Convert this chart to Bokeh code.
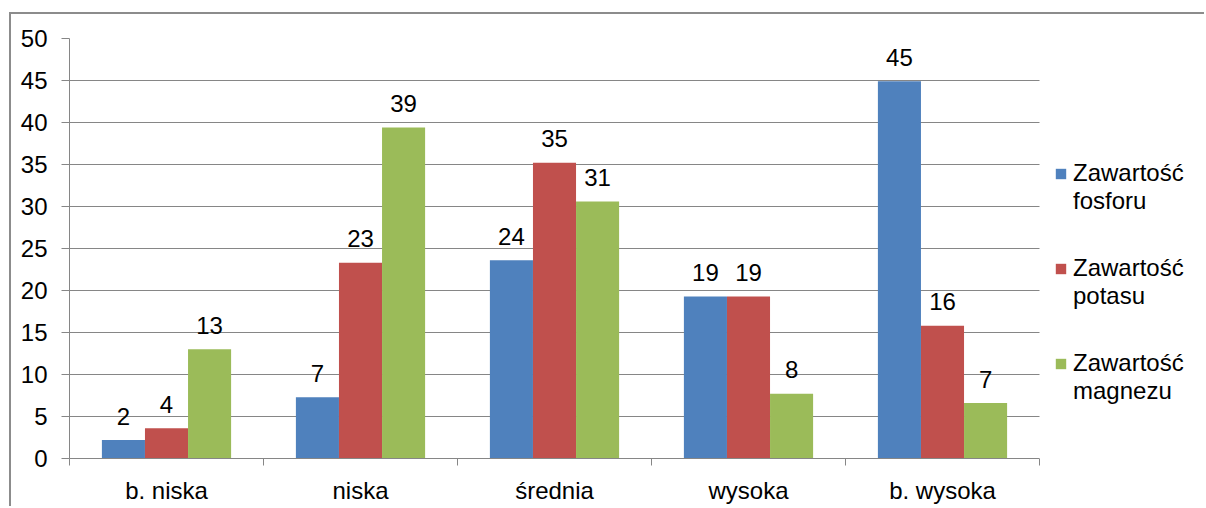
from bokeh.plotting import figure
from bokeh.models import (ColumnDataSource, Range1d, FixedTicker, Legend, LegendItem, BoxAnnotation)
from bokeh.transform import dodge
from bokeh.core.properties import value
from bokeh.embed import file_html
from bokeh.resources import INLINE

categories = ["b. niska", "niska", "średnia", "wysoka", "b. wysoka"]
fosfor = [2.2, 7.3, 23.6, 19.3, 44.9]
potas = [3.6, 23.3, 35.2, 19.3, 15.8]
magnez = [13.0, 39.4, 30.6, 7.7, 6.6]
series_names = ["Zawartość\nfosforu", "Zawartość\npotasu", "Zawartość\nmagnezu"]
colors = ["#4F81BD", "#C0504D", "#9BBB59"]
y_ticks = [0, 5, 10, 15, 20, 25, 30, 35, 40, 45, 50]

FONT = "Liberation Sans"
FS = "24px"
GRID = "#868686"
N = len(categories)

idx = [i + 0.5 for i in range(N)]
src = ColumnDataSource(dict(
    x=idx,
    fosfor=fosfor, potas=potas, magnez=magnez,
    fosfor_l=[str(int(v + 0.5)) for v in fosfor],
    potas_l=[str(int(v + 0.5)) for v in potas],
    magnez_l=[str(int(v + 0.5)) for v in magnez],
))

W, H = 1195, 494
ML, MT, MB = 58, 24, 50
px_per_cat = 194.0
x_end = (W - ML) / px_per_cat

p = figure(width=W, height=H, output_backend="svg", toolbar_location=None,
           x_range=Range1d(0, x_end), y_range=Range1d(0, 50),
           min_border_left=ML, min_border_right=0, min_border_top=MT, min_border_bottom=MB)
p.styles = {"border-top": "2px solid #8c8c8c", "border-left": "2px solid #8c8c8c",
            "margin-top": "12px", "margin-left": "9px"}
p.outline_line_color = None
p.background_fill_color = "white"
p.border_fill_color = "white"

bw = 0.222
items = []
for k, (col, c, name) in enumerate(zip(["fosfor", "potas", "magnez"], colors, series_names)):
    off = (k - 1) * bw
    r = p.vbar(x=dodge("x", off, range=p.x_range), top=col, width=bw, source=src,
               fill_color=c, line_color=None)
    p.text(x=dodge("x", off, range=p.x_range), y=col, text=col + "_l", source=src,
           text_align="center", text_baseline="alphabetic", y_offset=-24,
           text_font=value(FONT), text_font_size=FS, text_color="black")
    # a blank first line keeps the legend square level with the first text line
    items.append(LegendItem(label=" \n" + name, renderers=[r]))

# white area to the right of the category axis (legend zone)
p.add_layout(BoxAnnotation(left=N, fill_color="white", fill_alpha=1.0, line_color=None))

# axes
p.xaxis.bounds = (0, N)
p.xaxis.ticker = FixedTicker(ticks=idx, minor_ticks=list(range(N + 1)))
p.xaxis.major_label_overrides = {v: c for v, c in zip(idx, categories)}
p.xaxis.major_tick_out = 0
p.xaxis.major_tick_in = 0
p.xaxis.minor_tick_out = 7
p.xaxis.minor_tick_in = 0
p.xaxis.minor_tick_line_color = GRID
p.xaxis.axis_line_color = GRID
p.xaxis.major_label_standoff = 11
p.xaxis.major_label_text_font = FONT
p.xaxis.major_label_text_font_size = FS
p.xaxis.major_label_text_color = "black"

p.yaxis.ticker = FixedTicker(ticks=y_ticks)
p.yaxis.major_tick_out = 8
p.yaxis.major_tick_in = 0
p.yaxis.minor_tick_line_color = None
p.yaxis.major_tick_line_color = GRID
p.yaxis.axis_line_color = GRID
p.yaxis.major_label_standoff = 14
p.yaxis.major_label_text_font = FONT
p.yaxis.major_label_text_font_size = FS
p.yaxis.major_label_text_color = "black"

p.xgrid.grid_line_color = None
p.ygrid.grid_line_color = GRID
p.ygrid.grid_line_width = 1

legend = Legend(items=items, location=(985, 53))
legend.label_text_font = FONT
legend.label_text_font_size = FS
legend.label_text_color = "black"
legend.label_text_line_height = 1.2
legend.glyph_width = 13
legend.glyph_height = 13
legend.spacing = 11
legend.label_standoff = 6
legend.padding = 0
legend.margin = 0
legend.border_line_color = None
legend.background_fill_alpha = 0
p.add_layout(legend)

open("out.html", "w").write(file_html(p, INLINE))
